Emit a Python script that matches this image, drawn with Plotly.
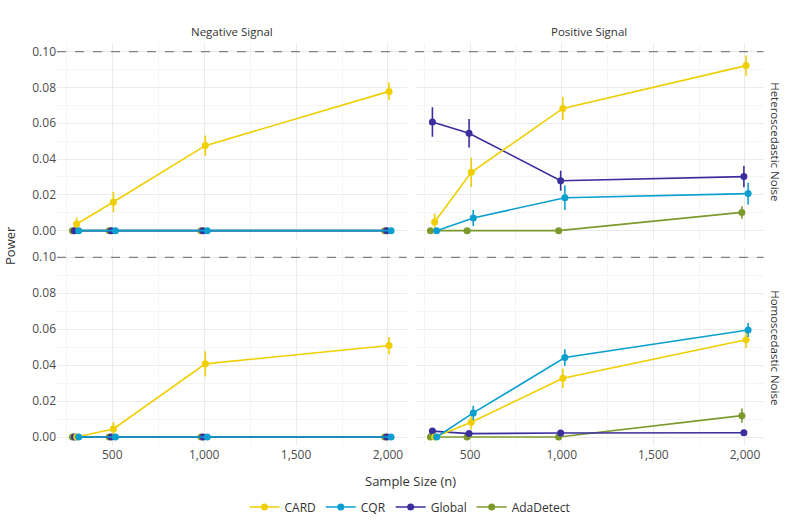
import plotly.graph_objects as go

# ---------------- data ----------------
sample_sizes = [300, 500, 1000, 2000]
methods = ["CARD", "CQR", "Global", "AdaDetect"]
signals = ["Negative Signal", "Positive Signal"]
noises = ["Heteroscedastic Noise", "Homoscedastic Noise"]

# Negative signal, heteroscedastic noise
neg_het_card = [0.0037, 0.0160, 0.0475, 0.0778]
neg_het_card_err = [0.0036, 0.0057, 0.0056, 0.0050]
neg_het_cqr = [0.0, 0.0, 0.0, 0.0]
neg_het_cqr_err = [0.0, 0.0, 0.0, 0.0]
neg_het_global = [0.0, 0.0, 0.0, 0.0]
neg_het_global_err = [0.0, 0.0, 0.0, 0.0]
neg_het_ada = [0.0, 0.0, 0.0, 0.0]
neg_het_ada_err = [0.0, 0.0, 0.0, 0.0]

# Positive signal, heteroscedastic noise
pos_het_card = [0.0048, 0.0326, 0.0683, 0.0922]
pos_het_card_err = [0.0048, 0.0082, 0.0065, 0.0056]
pos_het_cqr = [0.0, 0.0071, 0.0184, 0.0207]
pos_het_cqr_err = [0.0, 0.0045, 0.0068, 0.0061]
pos_het_global = [0.0607, 0.0544, 0.0279, 0.0302]
pos_het_global_err = [0.0082, 0.0080, 0.0056, 0.0059]
pos_het_ada = [0.0, 0.0, 0.0, 0.0102]
pos_het_ada_err = [0.0, 0.0, 0.0, 0.0035]

# Negative signal, homoscedastic noise
neg_hom_card = [0.0, 0.0045, 0.0407, 0.0509]
neg_hom_card_err = [0.0, 0.0038, 0.0070, 0.0048]
neg_hom_cqr = [0.0, 0.0, 0.0, 0.0]
neg_hom_cqr_err = [0.0, 0.0, 0.0, 0.0]
neg_hom_global = [0.0, 0.0, 0.0, 0.0]
neg_hom_global_err = [0.0, 0.0, 0.0, 0.0]
neg_hom_ada = [0.0, 0.0, 0.0, 0.0]
neg_hom_ada_err = [0.0, 0.0, 0.0, 0.0]

# Positive signal, homoscedastic noise
pos_hom_card = [0.0, 0.0082, 0.0327, 0.0541]
pos_hom_card_err = [0.0, 0.0040, 0.0054, 0.0046]
pos_hom_cqr = [0.0, 0.0134, 0.0442, 0.0595]
pos_hom_cqr_err = [0.0, 0.0040, 0.0046, 0.0039]
pos_hom_global = [0.0033, 0.0019, 0.0022, 0.0024]
pos_hom_global_err = [0.0005, 0.0004, 0.0004, 0.0004]
pos_hom_ada = [0.0, 0.0, 0.0, 0.0119]
pos_hom_ada_err = [0.0, 0.0, 0.0, 0.0040]

target_level = 0.10

panels = {
    (0, 0): {"CARD": (neg_het_card, neg_het_card_err), "CQR": (neg_het_cqr, neg_het_cqr_err),
             "Global": (neg_het_global, neg_het_global_err), "AdaDetect": (neg_het_ada, neg_het_ada_err)},
    (0, 1): {"CARD": (pos_het_card, pos_het_card_err), "CQR": (pos_het_cqr, pos_het_cqr_err),
             "Global": (pos_het_global, pos_het_global_err), "AdaDetect": (pos_het_ada, pos_het_ada_err)},
    (1, 0): {"CARD": (neg_hom_card, neg_hom_card_err), "CQR": (neg_hom_cqr, neg_hom_cqr_err),
             "Global": (neg_hom_global, neg_hom_global_err), "AdaDetect": (neg_hom_ada, neg_hom_ada_err)},
    (1, 1): {"CARD": (pos_hom_card, pos_hom_card_err), "CQR": (pos_hom_cqr, pos_hom_cqr_err),
             "Global": (pos_hom_global, pos_hom_global_err), "AdaDetect": (pos_hom_ada, pos_hom_ada_err)},
}

# ---------------- style ----------------
colors = {"CARD": "#EFCF00", "CQR": "#0B9FD0", "Global": "#3A2E9C", "AdaDetect": "#7C9A2C"}
dodge = {"AdaDetect": -17, "Global": -6, "CARD": 6, "CQR": 17}
draw_order = ["AdaDetect", "Global", "CARD", "CQR"]
legend_rank = {m: i + 1 for i, m in enumerate(methods)}

W, H = 789, 526


def px_x(p):
    return p / W


def px_y(p):
    return 1 - p / H


x_dom = [[px_x(57), px_x(406.5)], [px_x(415), px_x(763.5)]]
y_dom = [[px_y(239.6), px_y(42.7)], [px_y(446), px_y(248.3)]]
FONT = "Open Sans"
TICK_COL = "#4D4D4D"
TEXT_COL = "#333333"

fig = go.Figure()

for (r, c), data in panels.items():
    idx = r * 2 + c + 1
    xa = "x" if idx == 1 else f"x{idx}"
    ya = "y" if idx == 1 else f"y{idx}"
    for m in draw_order:
        vals, errs = data[m]
        fig.add_trace(go.Scatter(
            x=[n + dodge[m] for n in sample_sizes], y=vals,
            mode="lines+markers", name=m,
            line=dict(color=colors[m], width=1.6),
            marker=dict(color=colors[m], size=7),
            error_y=dict(type="data", array=errs, visible=True, color=colors[m], thickness=1.6, width=0),
            xaxis=xa, yaxis=ya, showlegend=(idx == 1), legendgroup=m,
            legendrank=legend_rank[m],
        ))
    fig.add_shape(type="line", xref=f"{xa} domain", yref=ya, x0=0, x1=1,
                  y0=target_level, y1=target_level,
                  line=dict(color="#808080", width=1.2, dash="dash"))

    xkey = "xaxis" if idx == 1 else f"xaxis{idx}"
    ykey = "yaxis" if idx == 1 else f"yaxis{idx}"
    fig.update_layout({
        xkey: dict(domain=x_dom[c], anchor=ya, range=[199, 2101],
                   tickvals=[500, 1000, 1500, 2000], tickformat=",",
                   showticklabels=(r == 1), showgrid=True, gridcolor="#EBEBEB", gridwidth=1,
                   minor=dict(tickvals=[250, 750, 1250, 1750], showgrid=True, gridcolor="#F5F5F5", gridwidth=0.8),
                   zeroline=False, showline=False, ticks="",
                   tickfont=dict(family=FONT, size=12, color=TICK_COL)),
        ykey: dict(domain=y_dom[r], anchor=xa, range=[-0.005, 0.105],
                   tickvals=[0, 0.02, 0.04, 0.06, 0.08, 0.10], tickformat=".2f",
                   showticklabels=(c == 0), showgrid=True, gridcolor="#EBEBEB", gridwidth=1,
                   minor=dict(tickvals=[0.01, 0.03, 0.05, 0.07, 0.09], showgrid=True, gridcolor="#F5F5F5", gridwidth=0.8),
                   zeroline=False, showline=False, ticks="",
                   tickfont=dict(family=FONT, size=12, color=TICK_COL)),
    })

ann = []
for c, s in enumerate(signals):
    ann.append(dict(text=s, x=(x_dom[c][0] + x_dom[c][1]) / 2, y=px_y(31), xref="paper", yref="paper",
                    xanchor="center", yanchor="middle",
                    showarrow=False, font=dict(family=FONT, size=11.5, color=TEXT_COL)))
for r, nz in enumerate(noises):
    ann.append(dict(text=nz, x=px_x(776), y=(y_dom[r][0] + y_dom[r][1]) / 2, xref="paper", yref="paper",
                    xanchor="center", yanchor="middle",
                    showarrow=False, textangle=90, font=dict(family=FONT, size=11.5, color=TEXT_COL)))
ann.append(dict(text="Power", x=px_x(10), y=px_y(246), xref="paper", yref="paper", showarrow=False,
                xanchor="center", yanchor="middle",
                textangle=-90, font=dict(family=FONT, size=13, color=TEXT_COL)))
ann.append(dict(text="Sample Size (n)", x=px_x(410), y=px_y(481), xref="paper", yref="paper", showarrow=False,
                xanchor="center", yanchor="middle",
                font=dict(family=FONT, size=13, color=TEXT_COL)))

fig.update_layout(
    width=W, height=H, margin=dict(l=0, r=0, t=0, b=0, autoexpand=False),
    paper_bgcolor="white", plot_bgcolor="white",
    annotations=ann,
    showlegend=True,
    legend=dict(orientation="h", x=px_x(410), xanchor="center", y=px_y(507), yanchor="middle",
                bgcolor="rgba(0,0,0,0)",
                font=dict(family=FONT, size=12, color=TEXT_COL), itemwidth=30, tracegroupgap=0),
)

# remove the default 8px page margin so the figure fills the window exactly
fig.write_html("out.html", config={"displayModeBar": False},
               post_script="document.body.style.margin='0';")
